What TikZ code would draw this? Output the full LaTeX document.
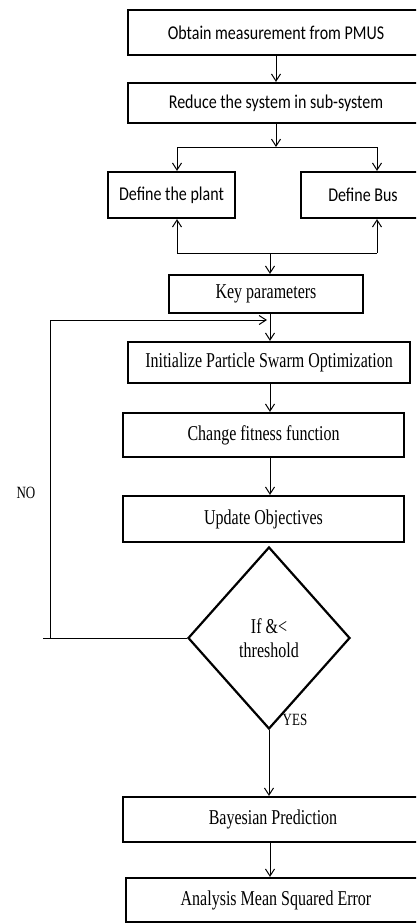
\documentclass[tikz,border=0pt]{standalone}
\usepackage{graphicx}
\usepackage{fontspec}
\setmainfont{Liberation Serif}
\newfontfamily\boxsans{Carlito}
\usetikzlibrary{arrows.meta,shapes.geometric}

% upright-stretched lettering used inside the boxes
\newcommand{\tallserif}[1]{\scalebox{1}[1.32]{#1}}
\newcommand{\tallsans}[1]{\scalebox{1}[1.22]{#1}}

\tikzset{
  procbox/.style={draw, line width=2.2pt, inner sep=0pt, font=\fontsize{16}{18}\selectfont},
  sansbox/.style={procbox, font=\boxsans\fontsize{16}{18}\selectfont},
  flow/.style={line width=1pt, -{Straight Barb[length=7pt,width=9pt,line width=1pt]}},
  link/.style={line width=1pt},
  decision/.style={diamond, draw, line width=2.2pt, inner sep=0pt, minimum width=162pt, minimum height=182pt, align=center, font=\fontsize{16}{24}\selectfont},
  tag/.style={font=\fontsize{13}{15}\selectfont, inner sep=0pt}
}

\begin{document}
\begin{tikzpicture}[x=1pt, y=-1pt]
  \useasboundingbox (0,0) rectangle (416,924);
  \clip (0,0) rectangle (416,924);

  % processing steps
  \node[sansbox, minimum width=296pt, minimum height=45pt] (obtain) at (276,32.5) {\tallsans{Obtain measurement from PMUS}};
  \node[sansbox, minimum width=296pt, minimum height=40pt] (reduce) at (276,103) {\tallsans{Reduce the system in sub-system}};
  \node[sansbox, minimum width=127pt, minimum height=46pt] (plant) at (171.5,195) {\tallsans{Define the plant}};
  \node[sansbox, minimum width=124pt, minimum height=46pt] (bus) at (363,195) {\tallsans{Define Bus}};
  \node[procbox, minimum width=194pt, minimum height=38pt] (key) at (266,294) {\tallserif{Key parameters}};
  \node[procbox, minimum width=282pt, minimum height=41pt] (pso) at (269,362.5) {\tallserif{Initialize Particle Swarm Optimization}};
  \node[procbox, minimum width=281pt, minimum height=44pt] (fitness) at (263.5,435) {\tallserif{Change fitness function}};
  \node[procbox, minimum width=281pt, minimum height=46pt] (update) at (263.5,519) {\tallserif{Update Objectives}};
  \node[decision] (check) at (269,638) {\tallserif{If \&<}\\\tallserif{threshold}};
  \node[procbox, minimum width=300pt, minimum height=45pt] (bayes) at (273,819.5) {\tallserif{Bayesian Prediction}};
  \node[procbox, minimum width=300pt, minimum height=44pt] (mse) at (276,900) {\tallserif{Analysis Mean Squared Error}};

  % junction points
  \coordinate (split) at (276,147);
  \coordinate (merge) at (270,253);
  \coordinate (loopin) at (270,320);
  \coordinate (loopcorner) at (50,638);
  \coordinate (loopstub) at (43,638);

  % top part
  \draw[flow] (obtain.south -| split) -- (reduce.north -| split);
  \draw[flow] (reduce.south -| split) -- (split);
  \draw[link] (177,147) -- (377,147);
  \draw[flow] (177,147) -- (plant.north -| 177,0);
  \draw[flow] (377,147) -- (bus.north -| 377,0);

  \draw[link] (177,253) -- (377,253);
  \draw[flow] (177,253) -- (plant.south -| 177,0);
  \draw[flow] (377,253) -- (bus.south -| 377,0);
  \draw[flow] (merge) -- (key.north -| merge);

  % optimisation loop
  \draw[flow] (key.south -| merge) -- (pso.north -| merge);
  \draw[flow] (pso.south -| merge) -- (fitness.north -| merge);
  \draw[flow] (fitness.south -| merge) -- (update.north -| merge);
  \draw[link] (check.west) -- (loopstub);
  \draw[flow] (loopcorner) -- (50,320) -- (267,320);

  % result
  \draw[flow] (check.south) -- (bayes.north -| check.south);
  \draw[flow] (bayes.south -| merge) -- (mse.north -| merge);

  % branch labels
  \node[tag] (no) at (26,493) {\tallserif{NO}};
  \node[tag] (yes) at (295,720) {\tallserif{YES}};
\end{tikzpicture}
\end{document}
